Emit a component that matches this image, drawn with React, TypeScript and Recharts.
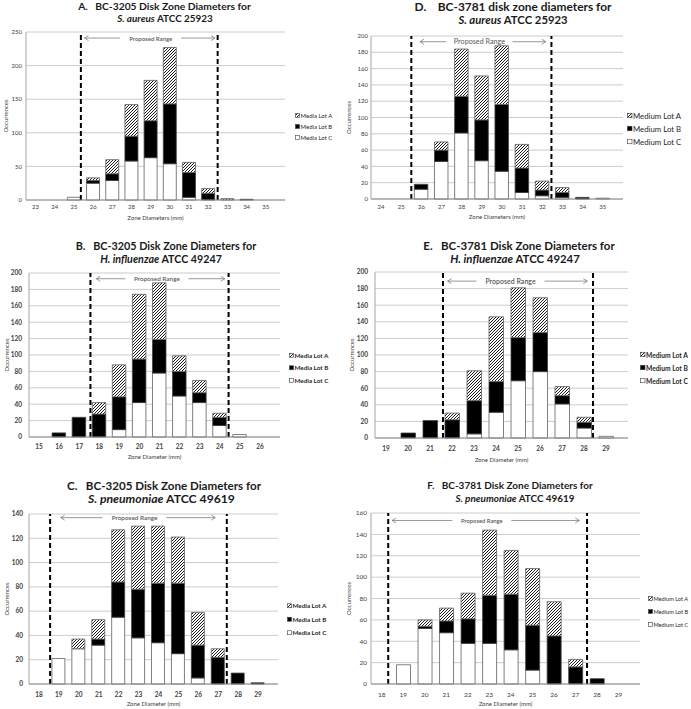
import React from 'react';
import { BarChart, Bar, XAxis, YAxis, CartesianGrid, ReferenceLine, Legend } from 'recharts';

const FONT = 'Lato, "Liberation Sans", sans-serif';

// ---------------- Data ----------------
// Panel A: BC-3205, S. aureus
const diamA = [23, 24, 25, 26, 27, 28, 29, 30, 31, 32, 33, 34, 35];
const lotC_A = [0, 0, 4, 25, 29, 58, 63, 54, 4, 0, 0, 0, 0];
const lotB_A = [0, 0, 0, 4, 10, 37, 55, 89, 37, 10, 0, 1, 0];
const lotA_A = [0, 0, 0, 4, 21, 47, 60, 84, 15, 7, 2, 0, 0];
const yTicksA = [0, 50, 100, 150, 200, 250];
const rangeA = [25.36, 32.49];

// Panel D: BC-3781, S. aureus
const diamD = [24, 25, 26, 27, 28, 29, 30, 31, 32, 33, 34, 35];
const lotC_D = [0, 0, 12, 46, 81, 47, 34, 8, 4, 2, 0, 1];
const lotB_D = [0, 0, 6, 14, 45, 50, 82, 30, 7, 6, 2, 0];
const lotA_D = [0, 0, 0, 10, 58, 54, 72, 29, 11, 6, 0, 0];
const yTicksD = [0, 20, 40, 60, 80, 100, 120, 140, 160, 180, 200];
const rangeD = [25.5, 32.45];

// Panel B: BC-3205, H. influenzae
const diamB = [15, 16, 17, 18, 19, 20, 21, 22, 23, 24, 25, 26];
const lotC_B = [0, 0, 0, 0, 9, 42, 78, 50, 42, 14, 3, 0];
const lotB_B = [0, 5, 24, 28, 40, 53, 41, 30, 12, 10, 0, 0];
const lotA_B = [0, 0, 0, 14, 39, 79, 69, 19, 15, 5, 0, 0];
const yTicksB = [0, 20, 40, 60, 80, 100, 120, 140, 160, 180, 200];
const rangeB = [17.56, 24.44];

// Panel E: BC-3781, H. influenzae
const diamE = [19, 20, 21, 22, 23, 24, 25, 26, 27, 28, 29];
const lotC_E = [0, 0, 0, 0, 5, 31, 69, 80, 41, 12, 2];
const lotB_E = [0, 6, 21, 22, 40, 37, 52, 47, 10, 7, 0];
const lotA_E = [0, 0, 0, 8, 36, 78, 60, 42, 11, 6, 0];
const yTicksE = [0, 20, 40, 60, 80, 100, 120, 140, 160, 180, 200];
const rangeE = [21.59, 28.41];

// Panel C: BC-3205, S. pneumoniae
const diamC = [18, 19, 20, 21, 22, 23, 24, 25, 26, 27, 28, 29];
const lotC_C = [0, 21, 29, 32, 55, 38, 34, 25, 5, 0, 0, 0];
const lotB_C = [0, 0, 0, 5, 29, 40, 49, 58, 27, 22, 9, 1];
const lotA_C = [0, 0, 8, 16, 43, 52, 47, 38, 27, 7, 0, 0];
const yTicksC = [0, 20, 40, 60, 80, 100, 120, 140];
const rangeC = [18.56, 27.43];

// Panel F: BC-3781, S. pneumoniae
const diamF = [18, 19, 20, 21, 22, 23, 24, 25, 26, 27, 28, 29];
const lotC_F = [0, 18, 52, 48, 38, 38, 32, 13, 0, 0, 0, 0];
const lotB_F = [0, 0, 2, 11, 23, 45, 52, 42, 45, 16, 5, 0];
const lotA_F = [0, 0, 6, 12, 24, 61, 41, 53, 32, 7, 0, 0];
const yTicksF = [0, 20, 40, 60, 80, 100, 120, 140, 160];
const rangeF = [18.3, 27.54];

const mediaLots = ['Media Lot A', 'Media Lot B', 'Media Lot C'];
const mediumLots = ['Medium Lot A', 'Medium Lot B', 'Medium Lot C'];
const yTitle = 'Occurrences';
const rangeLabel = 'Proposed Range';
const SP3 = '\u00A0\u00A0\u00A0';
const SP4 = '\u00A0\u00A0\u00A0\u00A0';

// ---------------- Panel configs (layout) ----------------
type Cfg = any;

const panels: Cfg[] = [
  {
    key: 'A', diam: diamA, c: lotC_A, b: lotB_A, a: lotA_A, yTicks: yTicksA, range: rangeA, lots: mediaLots,
    xTitle: 'Zone Diameters (mm)',
    t1: `A.${SP3}BC-3205 Disk Zone Diameters for`, t2i: 'S. aureus', t2: ' ATCC 25923',
    t1c: [164.5, 6, 10.3], t2c: [165, 17.5, 9.9],
    boxLeft: 0, boxW: 345, plot: { x0: 26, x1: 285, yTop: 32, yBottom: 200 },
    xTitleY: 217, yTitleX: 6, barSize: 13, tickFont: 6, tmx: 5, tmy: 4, axisFont: 6, boldTicks: false,
    prop: { y: 241, a0: 25.55, a1: 32.35, lx: 29.0, w: 45, font: 6 },
    legend: { x: 295, y0: 115, rowH: 11, font: 6, sw: 4, bold: false },
  },
  {
    key: 'D', diam: diamD, c: lotC_D, b: lotB_D, a: lotA_D, yTicks: yTicksD, range: rangeD, lots: mediumLots,
    xTitle: 'Zone Diameters (mm)',
    t1: `D.${SP4}BC-3781 disk zone diameters for`, t2i: 'S. aureus', t2: ' ATCC 25923',
    t1c: [513, 6, 11.9], t2c: [513, 18.5, 11.3],
    boxLeft: 345, boxW: 346, plot: { x0: 371, x1: 623, yTop: 36, yBottom: 199 },
    xTitleY: 216, yTitleX: 349, barSize: 13.5, tickFont: 6, tmx: 6, tmy: 3, axisFont: 6, boldTicks: false,
    prop: { y: 193, a0: 25.93, a1: 32.17, lx: 28.88, w: 50, font: 7.2, weight: 400 },
    legend: { x: 627, y0: 115, rowH: 13, font: 7.8, sw: 4.5, bold: false },
  },
  {
    key: 'B', diam: diamB, c: lotC_B, b: lotB_B, a: lotA_B, yTicks: yTicksB, range: rangeB, lots: mediaLots,
    xTitle: 'Zone Diameter (mm)',
    t1: `B.${SP3}BC-3205 Disk Zone Diameters for`, t2i: 'H. influenzae', t2: ' ATCC 49247',
    t1c: [166, 245.5, 10.8], t2c: [161, 258, 10.7],
    boxLeft: 0, boxW: 345, plot: { x0: 29, x1: 280, yTop: 273, yBottom: 437 },
    xTitleY: 456, yTitleX: 7, barSize: 13.5, tickFont: 6.5, tmx: 7, tmy: 7, axisFont: 6, boldTicks: true,
    prop: { y: 193, a0: 17.85, a1: 24.25, lx: 20.87, w: 47, font: 6.4 },
    legend: { x: 289, y0: 355, rowH: 12.5, font: 6.3, sw: 4, bold: true },
  },
  {
    key: 'E', diam: diamE, c: lotC_E, b: lotB_E, a: lotA_E, yTicks: yTicksE, range: rangeE, lots: mediumLots,
    xTitle: 'Zone Diameter (mm)',
    t1: `E.${SP3}BC-3781 Disk Zone Diameters for`, t2i: 'H. influenzae', t2: ' ATCC 49247',
    t1c: [519, 245.5, 11.5], t2c: [515, 258, 11.4],
    boxLeft: 345, boxW: 346, plot: { x0: 375, x1: 628, yTop: 272, yBottom: 438 },
    xTitleY: 459, yTitleX: 352, barSize: 14.5, tickFont: 6.5, tmx: 8, tmy: 7, axisFont: 6, boldTicks: true,
    prop: { y: 189, a0: 21.8, a1: 28.15, lx: 24.66, w: 52, font: 7 },
    legend: { x: 640, y0: 354, rowH: 13, font: 6.7, sw: 4.5, bold: true },
  },
  {
    key: 'C', diam: diamC, c: lotC_C, b: lotB_C, a: lotA_C, yTicks: yTicksC, range: rangeC, lots: mediaLots,
    xTitle: 'Zone Diameter (mm)',
    t1: `C.${SP3}BC-3205 Disk Zone Diameters for`, t2i: 'S. pneumoniae', t2: ' ATCC 49619',
    t1c: [164, 485.5, 11.6], t2c: [161.5, 498, 12.2],
    boxLeft: 0, boxW: 345, plot: { x0: 29, x1: 278, yTop: 514, yBottom: 684 },
    xTitleY: 703, yTitleX: 7, barSize: 13, tickFont: 6.5, tmx: 8, tmy: 6, axisFont: 6, boldTicks: true,
    prop: { y: 137, a0: 19.09, a1: 26.85, lx: 22.8, w: 48, font: 6.4 },
    legend: { x: 287, y0: 606, rowH: 13.5, font: 6.3, sw: 4, bold: true },
  },
  {
    key: 'F', diam: diamF, c: lotC_F, b: lotB_F, a: lotA_F, yTicks: yTicksF, range: rangeF, lots: mediumLots,
    xTitle: 'Zone Diameter (mm)',
    t1: `F.${SP3}BC-3781 Disk Zone Diameters for`, t2i: 'S. pneumoniae', t2: ' ATCC 49619',
    t1c: [510, 485, 10], t2c: [515, 498, 9.9],
    boxLeft: 345, boxW: 346, plot: { x0: 371, x1: 640, yTop: 513, yBottom: 684 },
    xTitleY: 703, yTitleX: 349, barSize: 14, tickFont: 6.5, tmx: 8, tmy: 4, axisFont: 6, boldTicks: false,
    prop: { y: 153, a0: 18.48, a1: 27.18, lx: 22.65, w: 43, font: 5.8 },
    legend: { x: 648, y0: 598, rowH: 13, font: 5.6, sw: 4, bold: false },
  },
];

const GRAY = '#7f7f7f';

const makeRangeShape = (p: Cfg) => (props: any) => {
  const { x1, x2, y1 } = props;
  if (x1 == null || x2 == null || y1 == null) return null;
  const frac = (p.lx - p.a0) / (p.a1 - p.a0);
  const cx = x1 + (x2 - x1) * frac;
  const lEnd = cx - p.w / 2 - 8;
  const rStart = cx + p.w / 2 + 8;
  return (
    <g>
      <line x1={x1} y1={y1} x2={lEnd} y2={y1} stroke={GRAY} strokeWidth={0.8} />
      <polyline points={`${x1 + 4},${y1 - 2.5} ${x1},${y1} ${x1 + 4},${y1 + 2.5}`} fill="none" stroke={GRAY} strokeWidth={0.8} />
      <line x1={rStart} y1={y1} x2={x2} y2={y1} stroke={GRAY} strokeWidth={0.8} />
      <polyline points={`${x2 - 4},${y1 - 2.5} ${x2},${y1} ${x2 - 4},${y1 + 2.5}`} fill="none" stroke={GRAY} strokeWidth={0.8} />
      <text x={cx} y={y1} textAnchor="middle" dominantBaseline="central" fontSize={p.font} fill="#595959" fontFamily={FONT} fontWeight={p.weight ?? 600}>
        {rangeLabel}
      </text>
    </g>
  );
};

const makeLegend = (cfg: Cfg) => (props: any) => {
  const L = cfg.legend;
  const items = [...(props.payload || [])].sort((m: any, n: any) => String(m.value).localeCompare(String(n.value)));
  return (
    <svg width={50} height={L.rowH * 3 + 2} style={{ display: 'block', overflow: 'visible' }}>
      {items.map((it: any, i: number) => {
        const cy = L.rowH / 2 + i * L.rowH;
        return (
          <g key={i}>
            <rect x={0.5} y={cy - L.sw / 2} width={L.sw} height={L.sw} fill={it.color} stroke="#404040" strokeWidth={0.6} />
            <text x={L.sw + 1.5} y={cy} dominantBaseline="central" fontSize={L.font} fill="#262626" fontFamily={FONT} fontWeight={L.bold ? 700 : 400}>
              {it.value}
            </text>
          </g>
        );
      })}
    </svg>
  );
};

function Panel({ cfg }: { cfg: Cfg }) {
  const data = cfg.diam.map((d: number, i: number) => ({ d, C: cfg.c[i], B: cfg.b[i], A: cfg.a[i] }));
  const { plot } = cfg;
  const boxTop = plot.yTop - 8;
  const xAxisH = cfg.xTitleY + 3 - plot.yBottom;
  const boxH = plot.yBottom + xAxisH + 2 - boxTop;
  const yAxisW = plot.x0 - cfg.boxLeft - 2;
  const margin = { top: 8, left: 2, right: cfg.boxLeft + cfg.boxW - plot.x1, bottom: 2 };
  const dMin = cfg.diam[0];
  const dMax = cfg.diam[cfg.diam.length - 1];
  const yMax = cfg.yTicks[cfg.yTicks.length - 1];
  const tickStyle = { fontSize: cfg.tickFont, fill: '#404040', fontFamily: FONT, fontWeight: cfg.boldTicks ? 700 : 400 };
  const axisTitleStyle = { fontSize: cfg.axisFont, fill: '#404040', fontFamily: FONT };
  const L = cfg.legend;
  return (
    <div style={{ position: 'absolute', left: cfg.boxLeft, top: boxTop }}>
      <BarChart width={cfg.boxW} height={boxH} data={data} margin={margin} barGap={0}>
        <CartesianGrid vertical={false} stroke="#bfbfbf" strokeWidth={0.8} />
        <XAxis
          dataKey="d"
          type="number"
          domain={[dMin - 0.5, dMax + 0.5]}
          ticks={cfg.diam}
          interval={0}
          allowDecimals={false}
          tickLine={false}
          tickSize={0}
          tickMargin={cfg.tmx}
          height={xAxisH}
          axisLine={{ stroke: '#8c8c8c' }}
          tick={tickStyle}
          label={{ value: cfg.xTitle, position: 'insideBottom', offset: 0, style: axisTitleStyle }}
        />
        <YAxis
          type="number"
          domain={[0, yMax]}
          ticks={cfg.yTicks}
          interval={0}
          width={yAxisW}
          tickLine={false}
          tickSize={0}
          tickMargin={cfg.tmy}
          axisLine={{ stroke: '#a6a6a6' }}
          tick={tickStyle}
          label={{
            value: yTitle,
            angle: -90,
            position: 'insideLeft',
            offset: cfg.yTitleX - (cfg.boxLeft + 2),
            style: { ...axisTitleStyle, textAnchor: 'middle' },
          }}
        />
        <Legend
          layout="horizontal"
          verticalAlign="middle"
          align="center"
          wrapperStyle={{ left: L.x - cfg.boxLeft, top: L.y0 - L.rowH / 2 - boxTop, width: 50, height: L.rowH * 3 + 2 }}
          content={makeLegend(cfg)}
        />
        <Bar dataKey="C" name={cfg.lots[2]} stackId="s" fill="#ffffff" stroke="#606060" strokeWidth={0.8} barSize={cfg.barSize} isAnimationActive={false} />
        <Bar dataKey="B" name={cfg.lots[1]} stackId="s" fill="#000000" stroke="#404040" strokeWidth={0.8} barSize={cfg.barSize} isAnimationActive={false} />
        <Bar dataKey="A" name={cfg.lots[0]} stackId="s" fill="url(#hatch)" stroke="#606060" strokeWidth={0.8} barSize={cfg.barSize} isAnimationActive={false} />
        <ReferenceLine x={cfg.range[0]} stroke="#000" strokeWidth={2} strokeDasharray="5 3" />
        <ReferenceLine x={cfg.range[1]} stroke="#000" strokeWidth={2} strokeDasharray="5 3" />
        <ReferenceLine
          segment={[{ x: cfg.prop.a0, y: cfg.prop.y }, { x: cfg.prop.a1, y: cfg.prop.y }]}
          shape={makeRangeShape(cfg.prop)}
        />
      </BarChart>
    </div>
  );
}

function Titles() {
  return (
    <svg width={691} height={709} style={{ position: 'absolute', left: 0, top: 0 }}>
      <defs>
        <pattern id="hatch" patternUnits="userSpaceOnUse" width={3} height={3}>
          <rect width={3} height={3} fill="#ffffff" />
          <path d="M-0.75,0.75 L0.75,-0.75 M0,3 L3,0 M2.25,3.75 L3.75,2.25" stroke="#000" strokeWidth={0.9} />
        </pattern>
      </defs>
      {panels.map((p) => (
        <g key={p.key} fontFamily={FONT} fontWeight={700} fill="#1a1a1a">
          <text x={p.t1c[0]} y={p.t1c[1]} dominantBaseline="central" textAnchor="middle" fontSize={p.t1c[2]}>
            {p.t1}
          </text>
          <text x={p.t2c[0]} y={p.t2c[1]} dominantBaseline="central" textAnchor="middle" fontSize={p.t2c[2]}>
            <tspan fontStyle="italic">{p.t2i}</tspan>
            <tspan>{p.t2}</tspan>
          </text>
        </g>
      ))}
    </svg>
  );
}

export default function App() {
  return (
    <div style={{ position: 'absolute', left: 0, top: 0, width: 691, height: 709, background: '#fff', overflow: 'hidden' }}>
      <Titles />
      {panels.map((p) => (
        <Panel key={p.key} cfg={p} />
      ))}
    </div>
  );
}
